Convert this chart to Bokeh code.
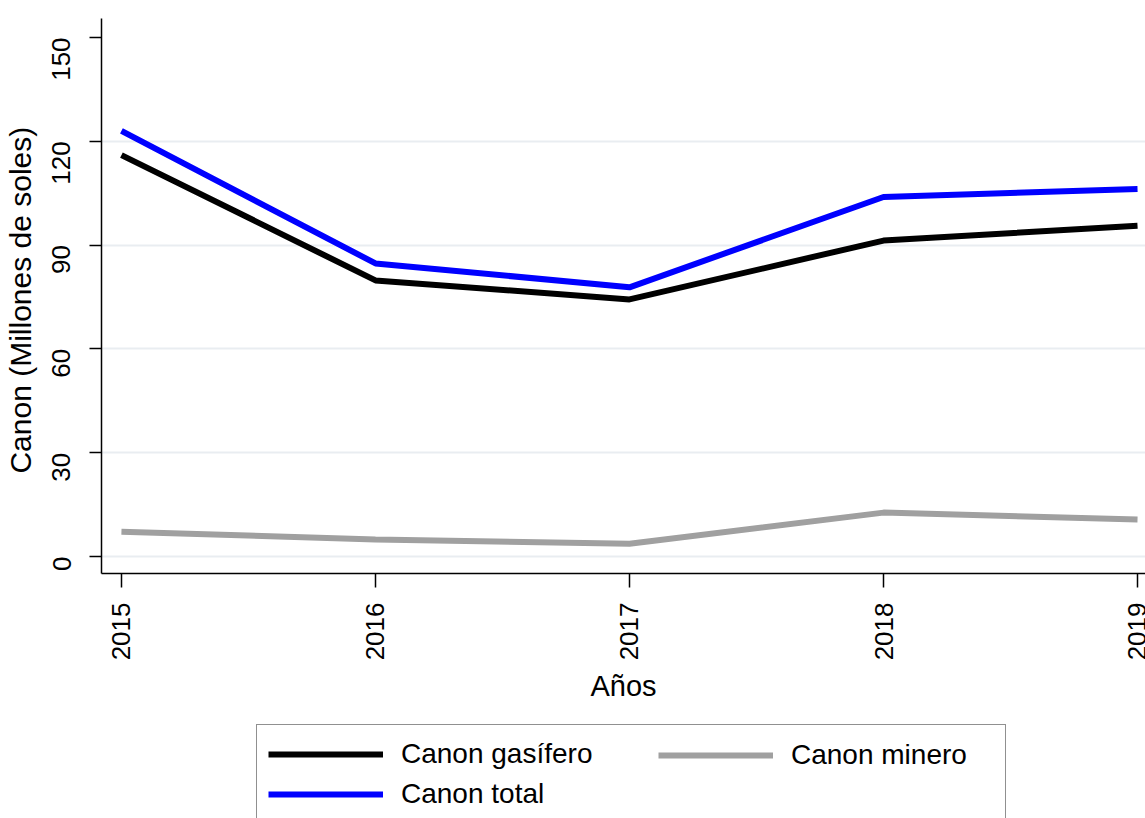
import math
from bokeh.plotting import figure
from bokeh.layouts import column
from bokeh.models import FixedTicker, Legend, LegendItem, Range1d
from bokeh.embed import file_html
from bokeh.resources import INLINE

# ---- data ----
years = [2015, 2016, 2017, 2018, 2019]
canon_gasifero = [116.0, 79.8, 74.3, 91.3, 95.6]
canon_minero = [7.2, 4.9, 3.7, 12.7, 10.7]
canon_total = [123.0, 84.7, 77.8, 103.9, 106.2]
y_ticks = [0, 30, 60, 90, 120, 150]
grid_ticks = [0, 30, 60, 90, 120]
series_labels = ["Canon gasífero", "Canon minero", "Canon total"]
x_title = "Años"
y_title = "Canon  (Millones de soles)"

FONT = "Liberation Sans"
COLORS = ["#000000", "#a0a0a0", "#0000ff"]

p = figure(width=1145, height=705, output_backend="svg", toolbar_location=None,
           x_range=Range1d(2014.9215, 2019.0314), y_range=Range1d(-4.894, 155.47),
           min_border_left=98, min_border_right=0, min_border_top=18, min_border_bottom=130)
p.outline_line_color = None
p.background_fill_color = "white"
p.border_fill_color = "white"

p.line(years, canon_gasifero, line_color=COLORS[0], line_width=6)
p.line(years, canon_minero, line_color=COLORS[1], line_width=6)
p.line(years, canon_total, line_color=COLORS[2], line_width=6)

# grid
p.xgrid.visible = False
p.ygrid.ticker = FixedTicker(ticks=grid_ticks)
p.ygrid.grid_line_color = "#e9edf1"
p.ygrid.grid_line_width = 2

# axes
for ax in (p.xaxis[0], p.yaxis[0]):
    ax.axis_line_color = "#000000"
    ax.axis_line_width = 1.5
    ax.major_tick_line_color = "#000000"
    ax.major_tick_line_width = 1.5
    ax.major_tick_in = 0
    ax.minor_tick_line_color = None
    ax.major_label_text_font = FONT
    ax.major_label_text_font_size = "26px"
    ax.major_label_text_color = "#000000"
    ax.axis_label_text_font = FONT
    ax.axis_label_text_font_style = "normal"
    ax.axis_label_text_color = "#000000"
    ax.major_label_orientation = math.pi / 2

p.xaxis.ticker = FixedTicker(ticks=years)
p.xaxis.major_tick_out = 14
p.xaxis.major_label_standoff = 15
p.xaxis.axis_label = x_title
p.xaxis.axis_label_text_font_size = "29px"
p.xaxis.axis_label_standoff = 7

p.yaxis.ticker = FixedTicker(ticks=y_ticks)
p.yaxis.major_tick_out = 12
p.yaxis.major_label_standoff = 28
p.yaxis.axis_label = y_title
p.yaxis.axis_label_text_font_size = "30px"
p.yaxis.axis_label_standoff = 4

# ---- legend strip (its own small canvas below the chart) ----
q = figure(width=1145, height=113, output_backend="svg", toolbar_location=None,
           x_range=Range1d(0, 1), y_range=Range1d(0, 1),
           x_axis_location=None, y_axis_location=None,
           min_border=0, min_border_left=0, min_border_right=0,
           min_border_top=0, min_border_bottom=0)
q.grid.visible = False
q.outline_line_color = None
q.background_fill_color = "white"
q.border_fill_color = "white"
# same series, outside this strip's view: they only provide the legend keys
k_gas = q.line(years, canon_gasifero, line_color=COLORS[0], line_width=6)
k_min = q.line(years, canon_minero, line_color=COLORS[1], line_width=6)
k_tot = q.line(years, canon_total, line_color=COLORS[2], line_width=6)


def style_legend(lg):
    lg.label_text_font = FONT
    lg.label_text_font_size = "28px"
    lg.label_text_color = "#000000"
    lg.glyph_width = 115
    lg.glyph_height = 36
    lg.label_standoff = 18
    lg.spacing = 4
    lg.padding = 11
    lg.margin = 0


# framed legend: first column (gasífero, total); box spans the full legend width
legend_a = Legend(items=[LegendItem(label=series_labels[0], renderers=[k_gas]),
                         LegendItem(label=series_labels[2], renderers=[k_tot])],
                  orientation="vertical", location=(155, -6))
style_legend(legend_a)
legend_a.label_width = 593
legend_a.border_line_color = "#222222"
legend_a.border_line_width = 1.5
legend_a.background_fill_color = "white"
legend_a.background_fill_alpha = 1.0
q.add_layout(legend_a)

# second column (minero), drawn inside the same box
legend_b = Legend(items=[LegendItem(label=series_labels[1], renderers=[k_min])],
                  orientation="vertical", location=(557, 45))
style_legend(legend_b)
legend_b.border_line_color = None
legend_b.background_fill_alpha = 0.0
q.add_layout(legend_b)

layout = column(p, q, spacing=0)
open("out.html", "w").write(file_html(layout, INLINE))
